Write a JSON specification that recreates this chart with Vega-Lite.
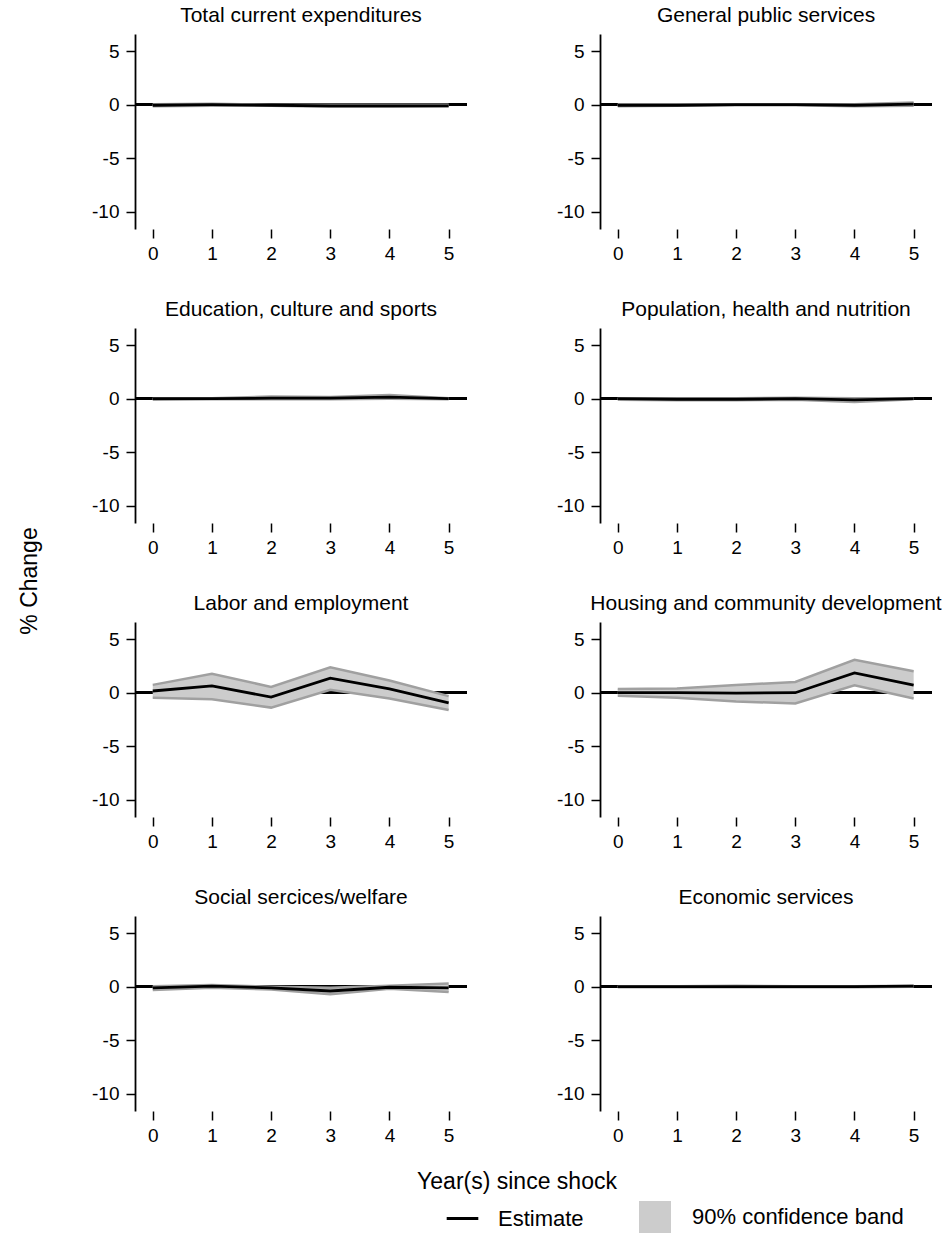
{
  "$schema": "https://vega.github.io/schema/vega-lite/v6.json",
  "background": "white",
  "padding": {"left": 18, "top": 5, "right": 0, "bottom": 5},
  "title": {"text": "% Change", "orient": "left", "anchor": "middle", "fontSize": 23, "fontWeight": "normal", "font": "Liberation Sans", "color": "black", "offset": 50, "dx": 38},
  "data": {"values": [
    {"panel": "Total current expenditures", "year": 0, "est": -0.05, "lo": -0.15, "hi": 0.05},
    {"panel": "Total current expenditures", "year": 1, "est": 0.0, "lo": -0.1, "hi": 0.1},
    {"panel": "Total current expenditures", "year": 2, "est": -0.05, "lo": -0.1, "hi": 0.0},
    {"panel": "Total current expenditures", "year": 3, "est": -0.1, "lo": -0.2, "hi": 0.0},
    {"panel": "Total current expenditures", "year": 4, "est": -0.1, "lo": -0.2, "hi": 0.0},
    {"panel": "Total current expenditures", "year": 5, "est": -0.1, "lo": -0.15, "hi": 0.0},
    {"panel": "General public services", "year": 0, "est": -0.05, "lo": -0.15, "hi": 0.05},
    {"panel": "General public services", "year": 1, "est": -0.05, "lo": -0.1, "hi": 0.05},
    {"panel": "General public services", "year": 2, "est": 0.0, "lo": -0.05, "hi": 0.05},
    {"panel": "General public services", "year": 3, "est": 0.0, "lo": -0.05, "hi": 0.05},
    {"panel": "General public services", "year": 4, "est": -0.05, "lo": -0.15, "hi": 0.05},
    {"panel": "General public services", "year": 5, "est": 0.05, "lo": -0.1, "hi": 0.2},
    {"panel": "Education, culture and sports", "year": 0, "est": 0.0, "lo": -0.1, "hi": 0.05},
    {"panel": "Education, culture and sports", "year": 1, "est": 0.0, "lo": -0.05, "hi": 0.05},
    {"panel": "Education, culture and sports", "year": 2, "est": 0.05, "lo": -0.05, "hi": 0.2},
    {"panel": "Education, culture and sports", "year": 3, "est": 0.05, "lo": -0.05, "hi": 0.15},
    {"panel": "Education, culture and sports", "year": 4, "est": 0.15, "lo": 0.0, "hi": 0.35},
    {"panel": "Education, culture and sports", "year": 5, "est": 0.0, "lo": -0.05, "hi": 0.05},
    {"panel": "Population, health and nutrition", "year": 0, "est": 0.0, "lo": -0.1, "hi": 0.05},
    {"panel": "Population, health and nutrition", "year": 1, "est": -0.05, "lo": -0.15, "hi": 0.05},
    {"panel": "Population, health and nutrition", "year": 2, "est": -0.05, "lo": -0.15, "hi": 0.05},
    {"panel": "Population, health and nutrition", "year": 3, "est": 0.0, "lo": -0.1, "hi": 0.1},
    {"panel": "Population, health and nutrition", "year": 4, "est": -0.1, "lo": -0.3, "hi": 0.05},
    {"panel": "Population, health and nutrition", "year": 5, "est": 0.0, "lo": -0.05, "hi": 0.05},
    {"panel": "Labor and employment", "year": 0, "est": 0.16, "lo": -0.47, "hi": 0.73},
    {"panel": "Labor and employment", "year": 1, "est": 0.63, "lo": -0.6, "hi": 1.77},
    {"panel": "Labor and employment", "year": 2, "est": -0.41, "lo": -1.39, "hi": 0.54},
    {"panel": "Labor and employment", "year": 3, "est": 1.36, "lo": 0.28, "hi": 2.37},
    {"panel": "Labor and employment", "year": 4, "est": 0.35, "lo": -0.54, "hi": 1.14},
    {"panel": "Labor and employment", "year": 5, "est": -0.95, "lo": -1.61, "hi": -0.32},
    {"panel": "Housing and community development", "year": 0, "est": 0.0, "lo": -0.28, "hi": 0.35},
    {"panel": "Housing and community development", "year": 1, "est": 0.0, "lo": -0.47, "hi": 0.4},
    {"panel": "Housing and community development", "year": 2, "est": -0.03, "lo": -0.82, "hi": 0.73},
    {"panel": "Housing and community development", "year": 3, "est": 0.0, "lo": -1.0, "hi": 1.0},
    {"panel": "Housing and community development", "year": 4, "est": 1.84, "lo": 0.7, "hi": 3.07},
    {"panel": "Housing and community development", "year": 5, "est": 0.7, "lo": -0.54, "hi": 2.0},
    {"panel": "Social sercices/welfare", "year": 0, "est": -0.1, "lo": -0.3, "hi": 0.05},
    {"panel": "Social sercices/welfare", "year": 1, "est": 0.05, "lo": -0.1, "hi": 0.15},
    {"panel": "Social sercices/welfare", "year": 2, "est": -0.1, "lo": -0.25, "hi": 0.0},
    {"panel": "Social sercices/welfare", "year": 3, "est": -0.4, "lo": -0.7, "hi": -0.1},
    {"panel": "Social sercices/welfare", "year": 4, "est": -0.05, "lo": -0.2, "hi": 0.1},
    {"panel": "Social sercices/welfare", "year": 5, "est": -0.1, "lo": -0.5, "hi": 0.3},
    {"panel": "Economic services", "year": 0, "est": 0.0, "lo": -0.05, "hi": 0.05},
    {"panel": "Economic services", "year": 1, "est": 0.0, "lo": -0.05, "hi": 0.05},
    {"panel": "Economic services", "year": 2, "est": 0.0, "lo": -0.05, "hi": 0.1},
    {"panel": "Economic services", "year": 3, "est": 0.0, "lo": -0.05, "hi": 0.05},
    {"panel": "Economic services", "year": 4, "est": 0.0, "lo": -0.05, "hi": 0.05},
    {"panel": "Economic services", "year": 5, "est": 0.05, "lo": 0.0, "hi": 0.1}
  ]},
  "facet": {
    "field": "panel", "type": "nominal",
    "sort": ["Total current expenditures", "General public services", "Education, culture and sports", "Population, health and nutrition", "Labor and employment", "Housing and community development", "Social sercices/welfare", "Economic services"],
    "title": "Year(s) since shock",
    "header": {"labelOrient": "top", "titleOrient": "bottom", "labelFontSize": 21, "labelFont": "Liberation Sans", "labelColor": "black", "labelPadding": 8, "labelLimit": 0, "titleFontSize": 23, "titleFont": "Liberation Sans", "titleFontWeight": "normal", "titleColor": "black", "titlePadding": 26}
  },
  "columns": 2,
  "spacing": {"row": 36, "column": 79},
  "resolve": {"axis": {"x": "independent", "y": "independent"}},
  "spec": {
    "width": 332,
    "height": 195,
    "encoding": {
      "x": {"field": "year", "type": "quantitative", "scale": {"domain": [-0.3, 5.31], "nice": false, "zero": false},
        "axis": {"title": null, "values": [0, 1, 2, 3, 4, 5], "domain": false, "tickSize": 9, "tickWidth": 1.5, "tickColor": "black", "labelPadding": 6, "grid": false}}
    },
    "layer": [
      {"mark": {"type": "rule", "color": "black", "strokeWidth": 2.7},
       "encoding": {"y": {"datum": 0, "type": "quantitative"}, "x": null}},
      {"mark": {"type": "area", "opacity": 1},
       "encoding": {
         "y": {"field": "lo", "type": "quantitative", "scale": {"domain": [-11.6, 6.6], "nice": false, "zero": false},
           "axis": {"title": null, "values": [-10, -5, 0, 5], "labelExpr": "'' + datum.value", "domain": true, "domainColor": "black", "domainWidth": 1.8, "tickSize": 9, "tickWidth": 1.5, "tickColor": "black", "labelPadding": 7, "grid": false}},
         "y2": {"field": "hi"},
         "fill": {"datum": "90% confidence band", "type": "nominal",
           "scale": {"domain": ["90% confidence band"], "range": ["#cccccc"]},
           "legend": {"title": null, "orient": "none", "legendX": 504, "legendY": 1167, "direction": "horizontal", "labelFontSize": 22, "labelFont": "Liberation Sans", "labelColor": "black", "labelLimit": 0, "symbolType": "square", "symbolSize": 1024, "symbolStrokeWidth": 0, "symbolOpacity": 1, "labelOffset": 21}
         }
       }},
      {"mark": {"type": "line", "color": "#a0a0a0", "strokeWidth": 2.5},
       "encoding": {"y": {"field": "lo", "type": "quantitative"}}},
      {"mark": {"type": "line", "color": "#a0a0a0", "strokeWidth": 2.5},
       "encoding": {"y": {"field": "hi", "type": "quantitative"}}},
      {"mark": {"type": "line", "strokeWidth": 2.8},
       "encoding": {"y": {"field": "est", "type": "quantitative"},
         "stroke": {"datum": "Estimate", "type": "nominal",
           "scale": {"domain": ["Estimate"], "range": ["black"]},
           "legend": {"title": null, "orient": "none", "legendX": 310, "legendY": 1167, "direction": "horizontal", "labelFontSize": 22, "labelFont": "Liberation Sans", "labelColor": "black", "labelLimit": 0, "symbolType": "stroke", "symbolSize": 1000, "symbolStrokeWidth": 3, "symbolOpacity": 1, "labelOffset": 18}}}}
    ]
  },
  "config": {
    "view": {"stroke": null},
    "font": "Liberation Sans",
    "axis": {"labelFont": "Liberation Sans", "labelFontSize": 19, "labelColor": "black"}
  }
}
